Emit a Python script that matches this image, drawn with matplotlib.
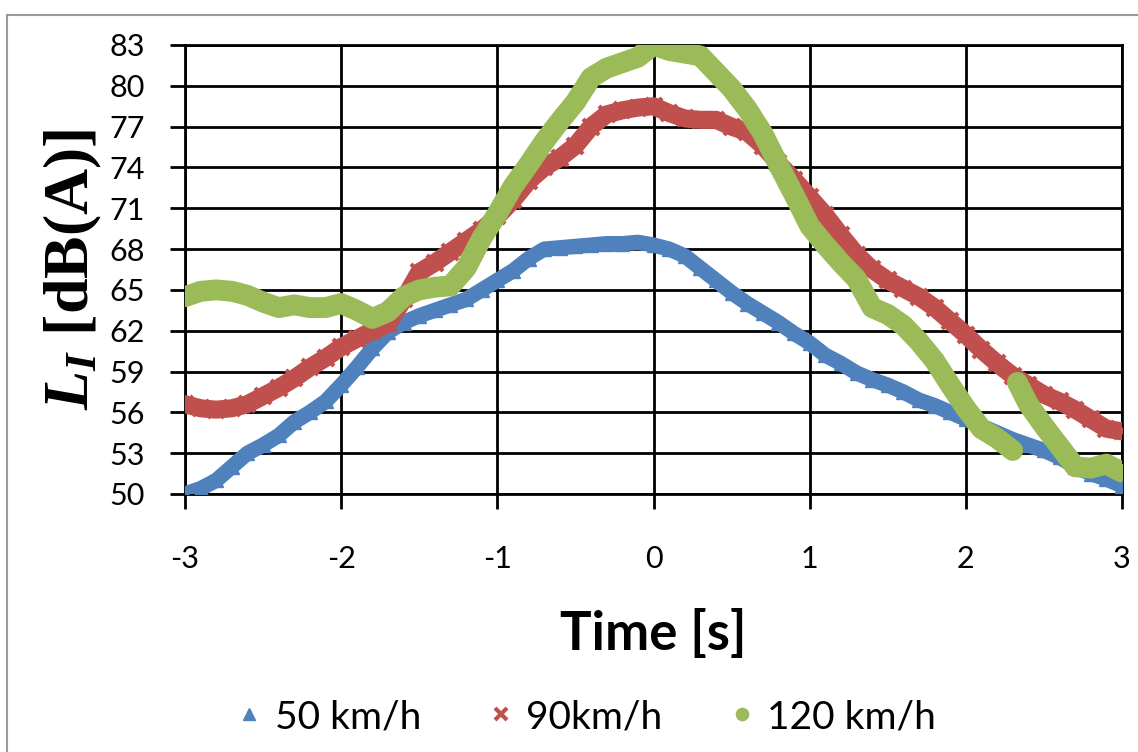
import numpy as np
import matplotlib
matplotlib.use("Agg")
import matplotlib.pyplot as plt
from matplotlib.patches import Rectangle

# ---------------- data ----------------
time_s = [round(-3.0 + 0.1 * i, 1) for i in range(61)]

speed_50 = [50.0, 50.4, 51.0, 52.0, 53.0, 53.6, 54.3, 55.3, 56.0, 56.8,
            58.0, 59.3, 60.7, 61.9, 62.6, 63.1, 63.5, 63.9, 64.3, 65.0,
            65.7, 66.4, 67.3, 68.0, 68.1, 68.2, 68.3, 68.4, 68.4, 68.5,
            68.3, 68.0, 67.5, 66.6, 65.7, 64.8, 64.0, 63.3, 62.6, 61.8,
            61.1, 60.2, 59.6, 58.9, 58.4, 58.0, 57.5, 56.9, 56.5, 56.0,
            55.5, 55.0, 54.5, 54.0, 53.6, 53.2, 52.7, 52.0, 51.5, 51.1,
            50.6]

speed_90 = [56.6, 56.3, 56.2, 56.3, 56.6, 57.2, 57.8, 58.5, 59.3, 60.0,
            60.8, 61.4, 62.0, 62.5, 64.3, 66.3, 67.0, 67.8, 68.6, 69.4,
            70.4, 71.6, 73.0, 74.0, 74.7, 75.6, 77.0, 77.9, 78.2, 78.4,
            78.5, 78.0, 77.6, 77.5, 77.5, 77.0, 76.6, 75.6, 74.3, 73.1,
            71.8, 70.5, 69.0, 67.6, 66.5, 65.7, 65.1, 64.5, 63.7, 62.7,
            61.7, 60.6, 59.6, 58.7, 58.0, 57.3, 56.8, 56.2, 55.5, 54.8,
            54.6]

time_120a = [round(-3.0 + 0.1 * i, 1) for i in range(54)]
speed_120a = [64.5, 64.9, 65.0, 64.9, 64.6, 64.1, 63.7, 63.9, 63.7, 63.7,
              64.0, 63.5, 62.9, 63.4, 64.5, 65.0, 65.2, 65.3, 66.6, 68.8,
              70.6, 72.6, 74.2, 75.9, 77.4, 78.8, 80.6, 81.3, 81.7, 82.1,
              83.0, 82.6, 82.4, 82.2, 81.0, 79.8, 78.3, 76.5, 74.2, 72.0,
              69.7, 68.3, 67.0, 65.8, 63.7, 63.2, 62.4, 61.2, 59.8, 58.0,
              56.3, 54.8, 54.1, 53.2]
time_120b = [2.33, 2.4, 2.5, 2.6, 2.7, 2.8, 2.9, 3.0]
speed_120b = [58.2, 56.6, 55.0, 53.5, 52.0, 51.9, 52.2, 51.6]

x_ticks = [-3, -2, -1, 0, 1, 2, 3]
y_ticks = [50, 53, 56, 59, 62, 65, 68, 71, 74, 77, 80, 83]

# ---------------- style ----------------
BLUE = "#4F81BD"
RED = "#C0504D"
GREEN = "#9BBB59"
TICK_FONT = "Lato"

plt.rcParams["axes.unicode_minus"] = False
plt.rcParams["mathtext.fontset"] = "custom"
plt.rcParams["mathtext.it"] = "Liberation Serif:italic:bold"
plt.rcParams["mathtext.rm"] = "Liberation Serif:bold"
plt.rcParams["mathtext.bf"] = "Liberation Serif:bold"

fig = plt.figure(figsize=(11.38, 7.52), dpi=100)
fig.patch.set_facecolor("white")

# outer chart border (left & top visible)
fig.patches.append(Rectangle((7 / 1138, -0.05), 1.2, (752 - 15) / 752 + 0.05,
                             transform=fig.transFigure, fill=False,
                             edgecolor="#9a9a9a", linewidth=1.5))

ax = fig.add_axes([185 / 1138, 1 - 494 / 752, (1122 - 185) / 1138, (494 - 45) / 752])

ax.set_xlim(-3, 3)
ax.set_ylim(50, 83)
ax.set_xticks(x_ticks)
ax.set_yticks(y_ticks)
ax.grid(True, color="black", linewidth=2.0)
ax.set_axisbelow(True)
for sp in ax.spines.values():
    sp.set_color("black")
    sp.set_linewidth(2.0)
ax.tick_params(axis="both", direction="out", length=11, width=2.0,
               labelsize=22, pad=18)
ax.tick_params(axis="x", pad=26)
for lab in ax.get_xticklabels() + ax.get_yticklabels():
    lab.set_fontfamily(TICK_FONT)

# series: thick band of markers
ax.plot(time_s, speed_50, color=BLUE, linewidth=11, solid_capstyle="round", zorder=3)
ax.plot(time_s, speed_50, linestyle="none", marker="^", markersize=10,
        color=BLUE, zorder=3, label="50 km/h")

ax.plot(time_s, speed_90, color=RED, linewidth=13, solid_capstyle="round", zorder=4)
ax.plot(time_s, speed_90, linestyle="none", marker="x", markersize=11,
        markeredgewidth=3, color=RED, zorder=4, label="90km/h")

ax.plot(time_120a, speed_120a, color=GREEN, linewidth=15, solid_capstyle="round", zorder=5)
ax.plot(time_120b, speed_120b, color=GREEN, linewidth=15, solid_capstyle="round", zorder=5)
ax.plot(time_120a + time_120b, speed_120a + speed_120b, linestyle="none",
        marker="o", markersize=11, color=GREEN, zorder=5, label="120 km/h")

ax.set_xlabel("Time [s]", fontfamily="Lato", fontweight="bold", fontsize=38,
              labelpad=26)
ax.set_ylabel(r"$L_I\ \mathrm{[dB(A)]}$", fontsize=46, labelpad=4)

leg = fig.legend(loc="center", bbox_to_anchor=(588 / 1138, 1 - 717 / 752), ncol=3,
                 frameon=False, handlelength=0.5, handletextpad=0.4,
                 columnspacing=1.8, markerscale=0.8,
                 prop={"family": TICK_FONT, "size": 28})

fig.savefig("out.png", dpi=100, facecolor="white")
